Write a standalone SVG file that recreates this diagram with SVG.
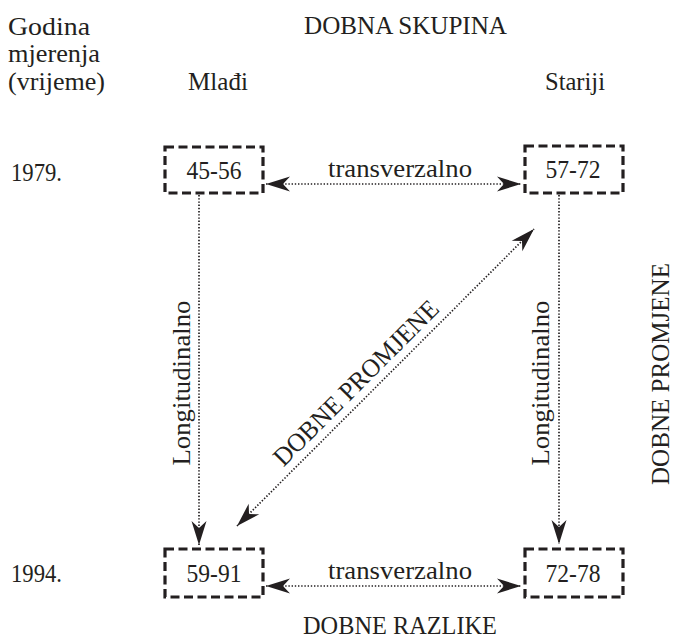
<svg xmlns="http://www.w3.org/2000/svg" width="676" height="640" viewBox="0 0 676 640">
<style>
text{font-family:"Liberation Serif","Times New Roman",serif;font-size:26px;fill:#231f20}
.box{fill:#fff;stroke:#231f20;stroke-width:3.2;stroke-dasharray:9 4.5}
.dot{fill:none;stroke:#231f20;stroke-width:1.7;stroke-dasharray:1.4 1.8}
.mid{text-anchor:middle}
</style>
<defs>
<marker id="ah" markerUnits="userSpaceOnUse" markerWidth="30" markerHeight="20" viewBox="-25 -10 30 20" refX="0" refY="0" orient="auto-start-reverse">
<path d="M0,0 L-24,-7.5 L-17,0 L-24,7.5 Z" fill="#231f20" stroke="none"/>
</marker>
</defs>
<g id="labels">
<text x="8" y="35" textLength="82" lengthAdjust="spacingAndGlyphs">Godina</text>
<text x="8" y="62" textLength="92" lengthAdjust="spacingAndGlyphs">mjerenja</text>
<text x="8" y="90" textLength="97" lengthAdjust="spacingAndGlyphs">(vrijeme)</text>
<text x="304" y="34" textLength="203" lengthAdjust="spacingAndGlyphs">DOBNA SKUPINA</text>
<text x="188" y="90" textLength="60" lengthAdjust="spacingAndGlyphs">Mlađi</text>
<text x="545" y="90" textLength="60" lengthAdjust="spacingAndGlyphs">Stariji</text>
<text x="11" y="181" textLength="51" lengthAdjust="spacingAndGlyphs">1979.</text>
<text x="11" y="582" textLength="51" lengthAdjust="spacingAndGlyphs">1994.</text>
<text x="303" y="634" textLength="194" lengthAdjust="spacingAndGlyphs">DOBNE RAZLIKE</text>
<text transform="translate(669,374) rotate(-90)" class="mid" textLength="222" lengthAdjust="spacingAndGlyphs">DOBNE PROMJENE</text>
</g>
<g id="connectors">
<line class="dot" x1="266" y1="184" x2="521" y2="184" marker-start="url(#ah)" marker-end="url(#ah)"/>
<line class="dot" x1="266" y1="586" x2="521" y2="586" marker-start="url(#ah)" marker-end="url(#ah)"/>
<line class="dot" x1="199" y1="195" x2="199" y2="545" marker-end="url(#ah)"/>
<line class="dot" x1="559" y1="195" x2="559" y2="544" marker-end="url(#ah)"/>
<line class="dot" x1="237" y1="526" x2="534" y2="229" marker-start="url(#ah)" marker-end="url(#ah)"/>
<text x="400" y="177" class="mid" textLength="144" lengthAdjust="spacingAndGlyphs">transverzalno</text>
<text x="400" y="579" class="mid" textLength="144" lengthAdjust="spacingAndGlyphs">transverzalno</text>
<text transform="translate(190,383) rotate(-90)" class="mid" textLength="165" lengthAdjust="spacingAndGlyphs">Longitudinalno</text>
<text transform="translate(549,383) rotate(-90)" class="mid" textLength="165" lengthAdjust="spacingAndGlyphs">Longitudinalno</text>
<text transform="translate(362,389) rotate(-45)" class="mid" textLength="222" lengthAdjust="spacingAndGlyphs">DOBNE PROMJENE</text>
</g>
<g id="n1"><rect class="box" x="165" y="147" width="98" height="46"/><text x="214" y="179" class="mid" textLength="55" lengthAdjust="spacingAndGlyphs">45-56</text></g>
<g id="n2"><rect class="box" x="525" y="146" width="98" height="47"/><text x="573" y="178" class="mid" textLength="55" lengthAdjust="spacingAndGlyphs">57-72</text></g>
<g id="n3"><rect class="box" x="165" y="549" width="98" height="48"/><text x="214" y="582" class="mid" textLength="55" lengthAdjust="spacingAndGlyphs">59-91</text></g>
<g id="n4"><rect class="box" x="525" y="549" width="98" height="48"/><text x="573" y="582" class="mid" textLength="55" lengthAdjust="spacingAndGlyphs">72-78</text></g>
</svg>
